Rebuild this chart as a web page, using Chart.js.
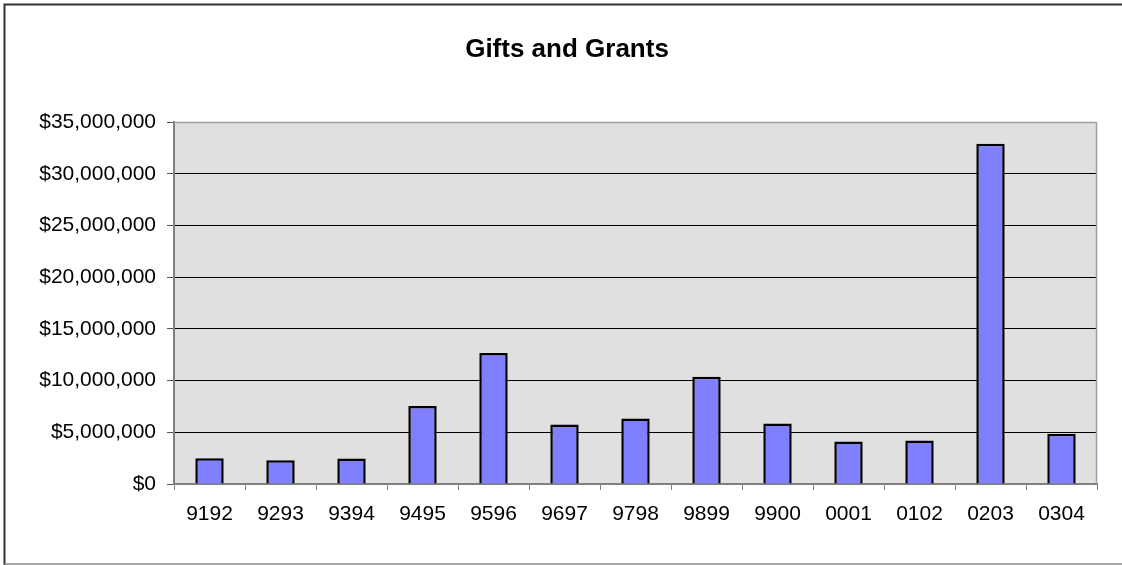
<!DOCTYPE html>
<html>
<head>
<meta charset="utf-8">
<script src="https://cdn.jsdelivr.net/npm/chart.js@4/dist/chart.umd.min.js"></script>
<style>
html,body{margin:0;padding:0;background:#fff;}
#wrap{width:1122px;height:565px;position:relative;}
</style>
</head>
<body>
<div id="wrap"><canvas id="c" width="1122" height="565"></canvas></div>
<script>
const categories = ["9192","9293","9394","9495","9596","9697","9798","9899","9900","0001","0102","0203","0304"];
const giftsAndGrants = [2490000, 2290000, 2460000, 7530000, 12670000, 5750000, 6330000, 10370000, 5850000, 4100000, 4200000, 32900000, 4850000];
const yTickMin = 0;
const yTickMax = 35000000;
const yTickStep = 5000000;
const chartTitle = "Gifts and Grants";

const FONT = "'Liberation Sans', Arial, sans-serif";

const framePlugin = {
  id: 'framePlugin',
  beforeDraw(chart) {
    const {ctx, chartArea} = chart;
    ctx.save();
    ctx.fillStyle = '#ffffff';
    ctx.fillRect(0, 0, chart.width, chart.height);
    ctx.fillStyle = '#e0e0e0';
    ctx.fillRect(chartArea.left, chartArea.top, chartArea.right - chartArea.left, chartArea.bottom - chartArea.top);
    ctx.restore();
  },
  afterDraw(chart) {
    const {ctx, chartArea} = chart;
    ctx.save();
    ctx.strokeStyle = '#a0a0a0';
    ctx.lineWidth = 1.5;
    ctx.beginPath();
    ctx.moveTo(chartArea.left, chartArea.top + 0.5);
    ctx.lineTo(chartArea.right - 0.5, chartArea.top + 0.5);
    ctx.lineTo(chartArea.right - 0.5, chartArea.bottom);
    ctx.stroke();
    ctx.strokeStyle = '#333333';
    ctx.lineWidth = 2;
    ctx.beginPath();
    ctx.moveTo(4.5, chart.height);
    ctx.lineTo(4.5, 4.5);
    ctx.lineTo(chart.width, 4.5);
    ctx.stroke();
    ctx.strokeStyle = '#888888';
    ctx.lineWidth = 1.5;
    ctx.beginPath();
    ctx.moveTo(4.5, 564);
    ctx.lineTo(chart.width, 564);
    ctx.stroke();
    ctx.restore();
  }
};

new Chart(document.getElementById('c'), {
  type: 'bar',
  data: {
    labels: categories,
    datasets: [{
      label: chartTitle,
      data: giftsAndGrants,
      backgroundColor: '#8080ff',
      borderColor: '#000000',
      borderWidth: 2.5,
      barPercentage: 0.4,
      categoryPercentage: 1.0
    }]
  },
  options: {
    responsive: false,
    animation: false,
    devicePixelRatio: 1,
    layout: { padding: { left: 37, right: 25, top: 0, bottom: 0 } },
    plugins: {
      legend: { display: false },
      tooltip: { enabled: false },
      title: {
        display: true,
        text: chartTitle,
        color: '#000',
        font: { family: FONT, size: 26, weight: 'bold', lineHeight: 1.2 },
        padding: { top: 34, bottom: 56.8 }
      }
    },
    scales: {
      x: {
        grid: { display: true, drawOnChartArea: false, drawTicks: true, tickLength: 6, color: '#808080', offset: true },
        border: { display: true, color: '#808080', width: 2 },
        ticks: { color: '#000', font: { family: FONT, size: 21 }, padding: 12, maxRotation: 0, autoSkip: false },
        afterFit(scale) { scale.height = 81; }
      },
      y: {
        min: yTickMin,
        max: yTickMax,
        grid: { color: '#000000', lineWidth: 1, drawTicks: true, tickLength: 7, tickColor: '#555555' },
        border: { display: true, color: '#808080', width: 2 },
        ticks: {
          stepSize: yTickStep,
          color: '#000',
          font: { family: FONT, size: 21 },
          padding: 11,
          callback: v => '$' + Number(v).toLocaleString('en-US')
        },
        afterFit(scale) { scale.width = 137; }
      }
    }
  },
  plugins: [framePlugin]
});
</script>
</body>
</html>
